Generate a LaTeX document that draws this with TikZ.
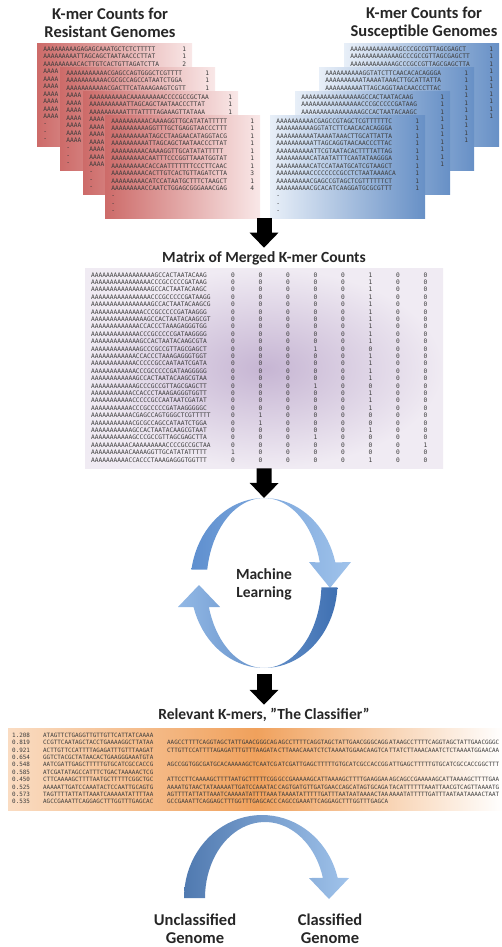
\documentclass[tikz,border=0pt]{standalone}
\usepackage{fontspec}
\setmainfont{Carlito}
\setmonofont{DejaVu Sans Mono}
\usetikzlibrary{arrows.meta, positioning}
\setlength{\tabcolsep}{0pt}
\definecolor{rsdark}{HTML}{CD6B69}
\definecolor{rslight}{HTML}{F9E8E8}
\definecolor{bslight}{HTML}{E8EFF8}
\definecolor{bsdark}{HTML}{6790C6}
\definecolor{mergein}{HTML}{C6B5D3}
\definecolor{mergeout}{HTML}{F0EBF3}
\definecolor{clsleft}{HTML}{FADCC2}
\definecolor{clsmid}{HTML}{F0A15C}
\definecolor{seqtext}{HTML}{3C3C3C}
\definecolor{mllight}{HTML}{A0C3EB}
\definecolor{mlmid}{HTML}{5E8FCF}
\definecolor{mldark}{HTML}{3F70B2}

\begin{document}
\begin{tikzpicture}[x=1pt,y=-1pt,
    title node/.style={font=\fontsize{15.5}{18}\selectfont\bfseries,align=center,text=black!85},
    label node/.style={title node,font=\fontsize{16.5}{18}\selectfont\bfseries},
    seq font/.style={font=\ttfamily\fontsize{6.2}{7.45}\selectfont,text=seqtext},
    sheet/.style={seq font,anchor=north west,minimum width=155pt,minimum height=103pt,inner xsep=5pt,inner ysep=3pt},
    red sheet/.style={sheet,left color=rsdark,right color=rslight},
    blue sheet/.style={sheet,left color=bslight,right color=bsdark},
    merge box/.style={font=\ttfamily\fontsize{6.2}{7.4}\selectfont,text=seqtext,anchor=north west,
        text width=346pt,align=left,inner xsep=6pt,minimum height=200pt,inner color=mergein,outer color=mergeout},
    class box/.style={font=\ttfamily\fontsize{5.9}{7.4}\selectfont,text=seqtext,anchor=north west,
        inner xsep=4pt,inner ysep=4pt,left color=clsleft,right color=white,middle color=clsmid},
    big arrow/.style={line width=15pt,-{Triangle[length=15pt,width=28pt]}}]

\useasboundingbox (0,0) rectangle (501,947);

\node[label node] (rtitle) at (110,23) {K-mer Counts for\\Resistant Genomes};
\node[label node] (stitle) at (424,23) {K-mer Counts for\\Susceptible Genomes};

\node[red sheet] (r1) at (37,43) {\begin{tabular}{p{139pt}l}
AAAAAAAAAGAGAGCAAATGCTCTCTTTTT & 1\\
AAAAAAAAATTAGCAGCTAATAACCCTTAT & 1\\
AAAAAAAAACACTTGTCACTGTTAGATCTTA & 2\\
AAAA & \\
AAAA & \\
AAAA & \\
AAAA & \\
AAAA & \\
AAAA & \\
AAAA & \\
- & \\
- & \\
- &
\end{tabular}};
\node[red sheet] (r2) at (60,67) {\begin{tabular}{p{139pt}l}
AAAAAAAAAAACGAGCCAGTGGGCTCGTTTT & 1\\
AAAAAAAAAAACGCGCCAGCCATAATCTGGA & 1\\
AAAAAAAAAAACGACTTCATAAAGAAGTCGTT & 1\\
AAAA & \\
AAAA & \\
AAAA & \\
AAAA & \\
AAAA & \\
AAAA & \\
AAAA & \\
- & \\
- & \\
- &
\end{tabular}};
\node[red sheet] (r3) at (83,91) {\begin{tabular}{p{139pt}l}
AAAAAAAAAACAAAAAAAAACCCCGCCGCTAA & 1\\
AAAAAAAAAATTAGCAGCTAATAACCCTTAT & 1\\
AAAAAAAAAATTTATTTTAGAAAGTTATAAA & 1\\
AAAA & \\
AAAA & \\
AAAA & \\
AAAA & \\
AAAA & \\
AAAA & \\
AAAA & \\
- & \\
- & \\
- &
\end{tabular}};
\node[red sheet] (r4) at (105,115) {\begin{tabular}{p{139pt}l}
AAAAAAAAAACAAAAGGTTGCATATATTTTT & 1\\
AAAAAAAAAAGGTTTGCTGAGGTAACCCTTT & 1\\
AAAAAAAAAATAGCCTAAGAACATAGGTACG & 1\\
AAAAAAAAAATTAGCAGCTAATAACCCTTAT & 1\\
AAAAAAAAACAAAAGGTTGCATATATTTTT & 1\\
AAAAAAAAACAATTTCCCGGTTAAATGGTAT & 1\\
AAAAAAAAACACCAATTTTTTTCCCTTCAAC & 1\\
AAAAAAAAACACTTGTCACTGTTAGATCTTA & 3\\
AAAAAAAAACATCCATAATGCTTTCTAAGCT & 1\\
AAAAAAAAACCAATCTGGAGCGGGAAACGAG & 4\\
- & \\
- & \\
- &
\end{tabular}};

\node[blue sheet] (b1) at (344,43) {\begin{tabular}{p{139pt}l}
AAAAAAAAAAAAAGCCCGCCGTTAGCGAGCT & 1\\
AAAAAAAAAAAAAGCCCGCCGTTAGCGAGCTT & 1\\
AAAAAAAAAAAAGCCCGCCGTTAGCGAGCTTA & 1\\
 & 1\\
 & 1\\
 & 1\\
 & 1\\
 & 1\\
 & 1\\
 & 1\\
 & \\
 & \\
 &
\end{tabular}};
\node[blue sheet] (b2) at (319,67) {\begin{tabular}{p{139pt}l}
AAAAAAAAAAGGTATCTTCAACACACAGGGA & 1\\
AAAAAAAAAATAAAATAAACTTGCATTATTA & 1\\
AAAAAAAAAATTAGCAGGTAACAACCCTTAC & 1\\
 & 1\\
 & 1\\
 & 1\\
 & 1\\
 & 1\\
 & 1\\
 & 1\\
 & \\
 & \\
 &
\end{tabular}};
\node[blue sheet] (b3) at (295,91) {\begin{tabular}{p{139pt}l}
AAAAAAAAAAAAAAAAGCCACTAATACAAG & 1\\
AAAAAAAAAAAAAAAACCCGCCCCCGATAAG & 1\\
AAAAAAAAAAAAAAAAGCCACTAATACAAGC & 1\\
 & 1\\
 & 1\\
 & 1\\
 & 1\\
 & 1\\
 & 1\\
 & 1\\
 & \\
 & \\
 &
\end{tabular}};
\node[blue sheet] (b4) at (270,115) {\begin{tabular}{p{139pt}l}
AAAAAAAAAACGAGCCGTAGCTCGTTTTTTC & 1\\
AAAAAAAAAAGGTATCTTCAACACACAGGGA & 1\\
AAAAAAAAAATAAAATAAACTTGCATTATTA & 1\\
AAAAAAAAAATTAGCAGGTAACAACCCTTAC & 1\\
AAAAAAAAAATTCGTAATACACTTTTATTAG & 1\\
AAAAAAAAACATAATATTTCAATATAAGGGA & 1\\
AAAAAAAAACATCCATAATGCATCGTAAGCT & 1\\
AAAAAAAAACCCCCCCCGCCTCTAATAAAACA & 1\\
AAAAAAAAACGAGCCGTAGCTCGTTTTTTCT & 1\\
AAAAAAAAACGCACATCAAGGATGCGCGTTT & 1\\
- & \\
- & \\
- &
\end{tabular}};

\node[title node] (mtitle) at (264,258) {Matrix of Merged K-mer Counts};
\coordinate (split) at (264,218);
\draw[big arrow] (split) -- (mtitle.north);

\node[merge box] (mbox) at (85,268) {\begin{tabular}{p{140pt}*{7}{p{27.5pt}}l}
AAAAAAAAAAAAAAAAAGCCACTAATACAAG & 0 & 0 & 0 & 0 & 0 & 1 & 0 & 0\\
AAAAAAAAAAAAAAAACCCGCCCCCGATAAG & 0 & 0 & 0 & 0 & 0 & 1 & 0 & 0\\
AAAAAAAAAAAAAAAAGCCACTAATACAAGC & 0 & 0 & 0 & 0 & 0 & 1 & 0 & 0\\
AAAAAAAAAAAAAAAACCCGCCCCCGATAAGG & 0 & 0 & 0 & 0 & 0 & 1 & 0 & 0\\
AAAAAAAAAAAAAAAAGCCACTAATACAAGCG & 0 & 0 & 0 & 0 & 0 & 1 & 0 & 0\\
AAAAAAAAAAAAAACCCGCCCCCGATAAGGG & 0 & 0 & 0 & 0 & 0 & 1 & 0 & 0\\
AAAAAAAAAAAAAAAGCCACTAATACAAGCGT & 0 & 0 & 0 & 0 & 0 & 1 & 0 & 0\\
AAAAAAAAAAAAACCACCCTAAAGAGGGTGG & 0 & 0 & 0 & 0 & 0 & 1 & 0 & 0\\
AAAAAAAAAAAAACCCGCCCCCGATAAGGGG & 0 & 0 & 0 & 0 & 0 & 1 & 0 & 0\\
AAAAAAAAAAAAAGCCACTAATACAAGCGTA & 0 & 0 & 0 & 0 & 0 & 1 & 0 & 0\\
AAAAAAAAAAAAAGCCCGCCGTTAGCGAGCT & 0 & 0 & 0 & 1 & 0 & 0 & 0 & 0\\
AAAAAAAAAAAACCACCCTAAAGAGGGTGGT & 0 & 0 & 0 & 0 & 0 & 1 & 0 & 0\\
AAAAAAAAAAAACCCCCGCCAATAATCGATA & 0 & 0 & 0 & 0 & 0 & 1 & 0 & 0\\
AAAAAAAAAAAACCCGCCCCCGATAAGGGGG & 0 & 0 & 0 & 0 & 0 & 1 & 0 & 0\\
AAAAAAAAAAAAGCCACTAATACAAGCGTAA & 0 & 0 & 0 & 0 & 0 & 1 & 0 & 0\\
AAAAAAAAAAAAGCCCGCCGTTAGCGAGCTT & 0 & 0 & 0 & 1 & 0 & 0 & 0 & 0\\
AAAAAAAAAAACCACCCTAAAGAGGGTGGTT & 0 & 0 & 0 & 0 & 0 & 1 & 0 & 0\\
AAAAAAAAAAACCCCCGCCAATAATCGATAT & 0 & 0 & 0 & 0 & 0 & 1 & 0 & 0\\
AAAAAAAAAAACCCGCCCCCGATAAGGGGGC & 0 & 0 & 0 & 0 & 0 & 1 & 0 & 0\\
AAAAAAAAAAACGAGCCAGTGGGCTCGTTTTT & 0 & 1 & 0 & 0 & 0 & 0 & 0 & 0\\
AAAAAAAAAAACGCGCCAGCCATAATCTGGA & 0 & 1 & 0 & 0 & 0 & 0 & 0 & 0\\
AAAAAAAAAAAGCCACTAATACAAGCGTAAT & 0 & 0 & 0 & 0 & 0 & 1 & 0 & 0\\
AAAAAAAAAAAGCCCGCCGTTAGCGAGCTTA & 0 & 0 & 0 & 1 & 0 & 0 & 0 & 0\\
AAAAAAAAAACAAAAAAAAACCCCGCCGCTAA & 0 & 0 & 0 & 0 & 0 & 0 & 0 & 1\\
AAAAAAAAAACAAAAGGTTGCATATATTTTT & 1 & 0 & 0 & 0 & 0 & 0 & 0 & 0\\
AAAAAAAAAACCACCCTAAAGAGGGTGGTTT & 0 & 0 & 0 & 0 & 0 & 1 & 0 & 0
\end{tabular}};

\coordinate (mltop) at (264,498);
\coordinate (mlbot) at (264,674);
\draw[big arrow] (mbox.south) -- (mltop);

\shade[left color=mlmid,right color=mllight]
  plot[domain=171:14,samples=40] ({264+73.5*cos(\x)},{583-85*sin(\x)})
  -- (351,562) -- (330,588) -- (309,562)
  -- plot[domain=14:171,samples=40] ({264+57.5*cos(\x)},{583-85*sin(\x)}) -- cycle;
\shade[left color=mllight!80!mlmid,right color=mldark]
  plot[domain=-3:-163.6,samples=40] ({264+73.5*cos(\x)},{583-85*sin(\x)})
  -- (178,607) -- (199,585) -- (220,607)
  -- plot[domain=-163.6:-3,samples=40] ({264+57.5*cos(\x)},{583-85*sin(\x)}) -- cycle;
\node[title node] (ml) at (264,584) {Machine\\Learning};

\node[title node] (ctitle) at (264,715) {Relevant K-mers, \symbol{34}The Classifier\symbol{34}};
\draw[big arrow] (mlbot) -- (ctitle.north);

\node[class box] (cbox) at (8,728) {\begin{tabular}{p{31pt}p{124pt}p{111pt}p{111pt}l}
1.208 & ATAGTTCTGAGGTTGTTGTTCATTATCAAAA\\
0.819 & CCGTTCAATAGCTACCTGAAAAGGCTTATAA & AAGCCTTTTCAGGTAGCTATTGAACGGGCAG & AGCCTTTTCAGGTAGCTATTGAACGGGCAGG & ATAAGCCTTTTCAGGTAGCTATTGAACGGGC\\
0.921 & ACTTGTTCCATTTTAGAGATTTGTTTAAGAT & CTTGTTCCATTTTAGAGATTTGTTTAAGATA & CTTAAACAAATCTCTAAAATGGAACAAGTCA & TTATCTTAAACAAATCTCTAAAATGGAACAA\\
0.654 & GGTCTACGCTATAACACTGAAGGGAAATGTA\\
0.548 & AATCGATTGAGCTTTTTGTGCATCGCCACCG & AGCCGGTGGCGATGCACAAAAAGCTCAATCG & ATCGATTGAGCTTTTTGTGCATCGCCACCGG & ATTGAGCTTTTTGTGCATCGCCACCGGCTTT\\
0.585 & ATCGATATAGCCATTTCTGACTAAAAACTCG\\
0.450 & CTTCAAAAGCTTTTAATGCTTTTTCGGCTGC & ATTCCTTCAAAAGCTTTTAATGCTTTTTCGG & GCCGAAAAAGCATTAAAAGCTTTTGAAGGAA & AGCAGCCGAAAAAGCATTAAAAGCTTTTGAA\\
0.525 & AAAAATTGATCCAAATACTCCAATTGCAGTG & AAAATGTAACTATAAAAATTGATCCAAATAC & CAGTGATGTTGATGAACCAGCATAGTGCAGA & TACATTTTTTAAATTAACGTCAGTTAAAATG\\
0.573 & TAGTTTTATTATTAAATCAAAAATATTTTAA & AGTTTTATTATTAAATCAAAAATATTTTAAA & TAAAATATTTTTGATTTAATAATAAAACTAA & AAAATATTTTTGATTTAATAATAAAACTAAT\\
0.535 & AGCCGAAATTCAGGAGCTTTGGTTTGAGCAC & GCCGAAATTCAGGAGCTTTGGTTTGAGCACC & CAGCCGAAATTCAGGAGCTTTGGTTTGAGCA
\end{tabular}};

\shade[left color=mlmid!85!black,right color=mllight]
  plot[domain=180:14,samples=40] ({262+78*cos(\x)},{898-83*sin(\x)})
  -- (349,878) -- (329,899) -- (309,878)
  -- plot[domain=15.3:180,samples=40] ({265+60*cos(\x)},{898-76*sin(\x)}) -- cycle;
\node[label node] (uc) at (195,929) {Unclassified\\Genome};
\node[label node] (cl) at (330,929) {Classified\\Genome};
\end{tikzpicture}
\end{document}
